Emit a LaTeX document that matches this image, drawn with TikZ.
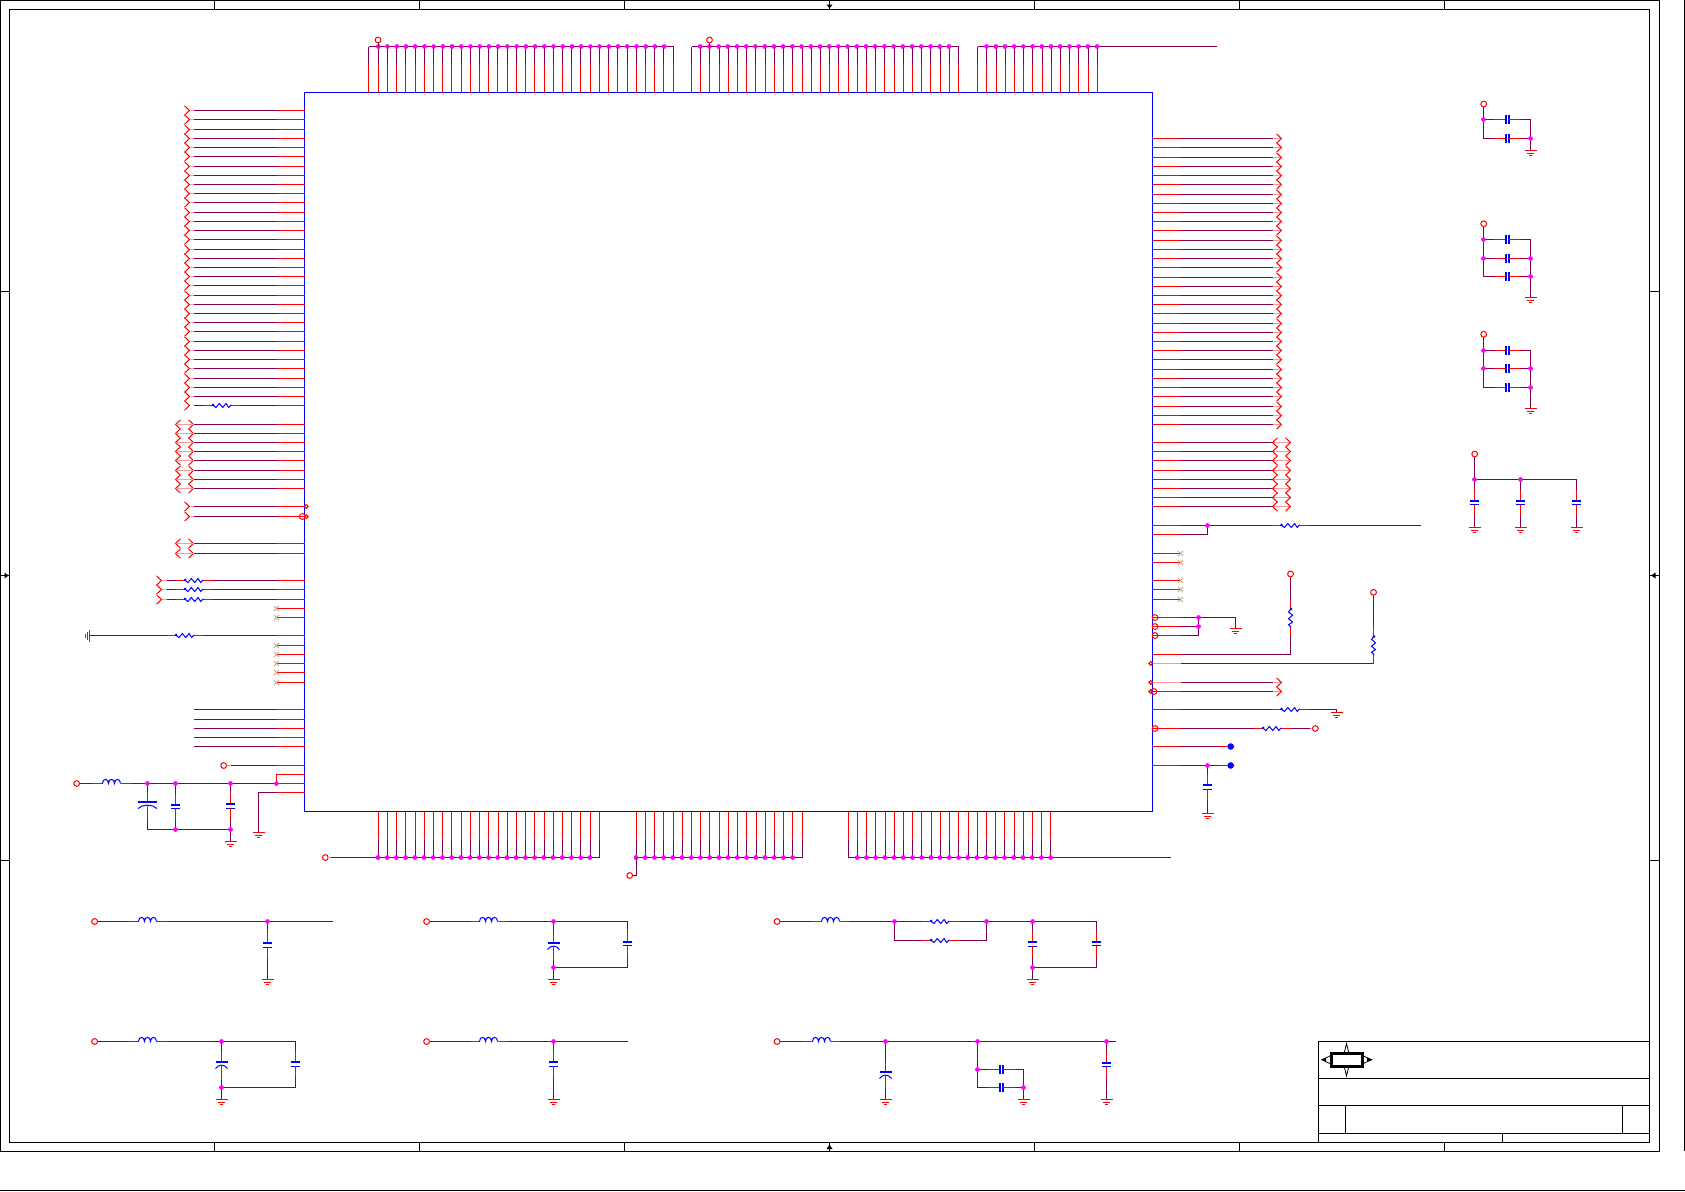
\documentclass[tikz,border=0pt]{standalone}
\definecolor{wirep}{HTML}{800050}
\definecolor{pk}{HTML}{FF9999}
\definecolor{nct}{HTML}{C8A880}
\definecolor{jdot}{HTML}{FF00FF}
\definecolor{rd}{HTML}{FF0000}
\definecolor{bl}{HTML}{0000FF}
\tikzset{
  pw/.style={draw=wirep,line width=1pt},
  pr/.style={draw=rd,line width=1pt},
  ppk/.style={draw=pk,line width=1.4pt},
  plate/.style={draw=bl,line width=1pt},
  plateb/.style={draw=bl,line width=2pt},
  frm/.style={draw=black,line width=1pt},
  resz/.pic={\fill[bl] (0.6,-0.6) circle (1.4pt);
    \draw[bl,line width=1pt] (0,-0.6)--(3.4,2)--(6.8,-2)--(10.2,2)--(13.6,-2)--(16.2,2)--(18.7,-0.6);},
  indz/.pic={\draw[bl,line width=1pt] (0,0) .. controls (0,-5.5) and (6,-5.5) .. (6,0) .. controls (6,-5.5) and (12,-5.5) .. (12,0) .. controls (12,-5.5) and (18,-5.5) .. (18,0);},
  gndz/.pic={\draw[rd,line width=1.1pt] (-6,0)--(6,0) (-3.8,2.6)--(3.8,2.6) (-1.8,5.2)--(1.8,5.2);}
}
\newcommand\Lp[2]{\draw[pw] (#2,#1)--(276.5,#1);\draw[pr] (276.5,#1)--(chip.west |- 0,#1);}
\newcommand\Rp[2]{\draw[pr] (chip.east |- 0,#1)--(1180.5,#1);\draw[pw] (1180.5,#1)--(#2,#1);}
\newcommand\Tp[1]{\draw[pr] (#1,92.5)--(#1,64.5);\draw[pw] (#1,64.5)--(#1,46.5);}
\newcommand\Bp[1]{\draw[pr] (#1,811.5)--(#1,839.5);\draw[pw] (#1,839.5)--(#1,857.5);}
\newcommand\Dot[2]{\fill[jdot] (#1,#2) circle (2.4pt);}
\newcommand\Open[2]{\draw[rd,line width=1pt] (#1,#2) circle (2.9pt);}
\newcommand\Sm[2]{\draw[rd,line width=1pt] (#1,#2) circle (1.9pt);}
\newcommand\NC[2]{\draw[nct,line width=.8pt] (#1-2.5,#2-2.5)--(#1+2.5,#2+2.5) (#1-2.5,#2+2.5)--(#1+2.5,#2-2.5);}
\newcommand\ChR[2]{\draw[rd,line width=1pt] (#1-5,#2-4.7)--(#1,#2)--(#1-5,#2+4.7);}
\newcommand\ChL[2]{\draw[rd,line width=1pt] (#1+5,#2-4.7)--(#1,#2)--(#1+5,#2+4.7);}
\newcommand\ResH[2]{\draw[pr] (#1-9,#2)--(#1,#2);\draw[pr] (#1+18.7,#2)--(#1+28,#2);\pic at (#1,#2) {resz};}
\newcommand\IndH[2]{\draw[pr] (#1-10,#2)--(#1,#2);\draw[pr] (#1+18,#2)--(#1+28,#2);\pic at (#1,#2) {indz};}
\newcommand\CapV[4]{\draw[pw] (#1,#2)--(#1,#4-13);\draw[pr] (#1,#4-13)--(#1,#4-2);
  \draw[plateb] (#1-4.5,#4-2)--(#1+4.5,#4-2);\draw[plate] (#1-4.5,#4+2)--(#1+4.5,#4+2);
  \draw[pr] (#1,#4+2)--(#1,#4+13);\draw[pw] (#1,#4+13)--(#1,#3);}
% polarised capacitor: x, ytop, ybot, plate, half width
\newcommand\PolV[5]{\draw[pw] (#1,#2)--(#1,#4-10);\draw[pr] (#1,#4-10)--(#1,#4);
  \draw[plateb] (#1-#5,#4)--(#1+#5,#4);
  \draw[bl,line width=1pt] (#1-#5,#4+7) .. controls (#1-#5*0.5,#4+2.5) and (#1+#5*0.5,#4+2.5) .. (#1+#5,#4+7);
  \draw[pr] (#1,#4+4)--(#1,#4+17);\draw[pw] (#1,#4+17)--(#1,#3);}
\newcommand\CapH[4]{\draw[pw] (#1,#4)--(#3-13.5,#4);\draw[pr] (#3-13.5,#4)--(#3-1.5,#4);
  \draw[plateb] (#3-1.5,#4-4.5)--(#3-1.5,#4+4.5);\draw[plateb] (#3+1.7,#4-4.5)--(#3+1.7,#4+4.5);
  \draw[pr] (#3+1.7,#4)--(#3+13.5,#4);\draw[pw] (#3+13.5,#4)--(#2,#4);}
\begin{document}
\begin{tikzpicture}[x=1pt,y=-1pt]
\useasboundingbox (0,0) rectangle (1685,1191);
% ---- sheet frame
\draw[frm] (0.5,0.5) rectangle (1659.5,1151.5);
\draw[frm] (9.5,9.5) rectangle (1649.5,1142.5);
\draw[frm] (0,1190.5)--(1684.5,1190.5);
\draw[frm] (1684.5,0)--(1684.5,1151);
\foreach \x in {214.5,419.5,624.5,829.5,1034.5,1239.5,1444.5}{
  \draw[frm] (\x,0.5)--(\x,9.5);\draw[frm] (\x,1142.5)--(\x,1151.5);}
\foreach \y in {291.5,575.5,860.5}{
  \draw[frm] (0.5,\y)--(9.5,\y);\draw[frm] (1649.5,\y)--(1659.5,\y);}
\fill (826.5,4.5)--(832.5,4.5)--(829.5,8.5)--cycle;
\fill (826.5,1149)--(832.5,1149)--(829.5,1144.5)--cycle;
\fill (4.5,572.5)--(4.5,578.5)--(8.5,575.5)--cycle;
\fill (1655.5,572.5)--(1655.5,578.5)--(1651,575.5)--cycle;
% ---- title block
\draw[frm] (1318.5,1041.5) rectangle (1649.5,1142.5);
\draw[frm] (1318.5,1078.5)--(1649.5,1078.5);
\draw[frm] (1318.5,1105.5)--(1649.5,1105.5);
\draw[frm] (1318.5,1133.5)--(1649.5,1133.5);
\draw[frm] (1345.5,1105.5)--(1345.5,1133.5);
\draw[frm] (1622.5,1105.5)--(1622.5,1133.5);
\draw[frm] (1502.5,1133.5)--(1502.5,1142.5);
\draw[black,line width=.8pt] (1346.5,1043.5)--(1350.5,1059.7)--(1346.5,1076)--(1342.5,1059.7)--cycle;
\draw[black,line width=.8pt] (1321.7,1059.7)--(1332,1055)--(1361,1055)--(1371.7,1059.7)--(1361,1064.5)--(1332,1064.5)--cycle;
\fill (1321.7,1059.7)--(1326,1057.7)--(1326,1061.7)--cycle;
\fill (1371.7,1059.7)--(1367,1057.7)--(1367,1061.7)--cycle;
\draw[black,fill=white,line width=2.8pt] (1331.2,1053.2) rectangle (1362.8,1066.8);
% ---- the chip
\node[draw=bl,line width=1pt,inner sep=0pt,outer sep=0pt,minimum width=848pt,minimum height=719pt,anchor=north west] (chip) at (304.5,92.5) {};
% ---- left pins, group 1
\foreach \k [evaluate=\k as \y using floor(110.7+9.22*\k)+0.5] in {0,...,31}{
  \ChR{189.5}{\y}\draw[ppk] (189.5,\y)--(193.5,\y);\Lp{\y}{193.5}}
\ChR{189.5}{405.5}
\draw[pw] (193.5,405.5)--(203.5,405.5);\ResH{212.5}{405.5}\draw[pw] (240.5,405.5)--(276.5,405.5);
\draw[pr] (276.5,405.5)--(304.5,405.5);
% group 2 and 4, double chevrons
\foreach \y in {424.5,433.5,442.5,451.5,460.5,470.5,479.5,488.5,543.5,553.5}{
  \ChL{175.5}{\y}\ChR{193.5}{\y}\draw[ppk] (175.5,\y)--(193.5,\y);\Lp{\y}{193.5}}
% group 3
\foreach \y in {506.5,516.5}{\ChR{189.5}{\y}\draw[ppk] (189.5,\y)--(193.5,\y);\Lp{\y}{193.5}}
\Sm{306.2}{506.5}\Sm{306.2}{516.5}\Open{302.3}{516.5}
% group 5
\foreach \y in {580.5,589.5,599.5}{
  \ChR{161.5}{\y}\draw[ppk] (161.5,\y)--(166.5,\y);\draw[pw] (166.5,\y)--(175.5,\y);
  \ResH{184.5}{\y}\Lp{\y}{212.5}}
% no-connect pins
\foreach \y in {608.5,617.5,645.5,654.5,663.5,672.5,682.5}{
  \draw[pr] (276.5,\y)--(304.5,\y);\NC{276.5}{\y}}
% grounded resistor
\draw[rd,line width=1pt] (89.5,629.5)--(89.5,641.5) (87.5,631.5)--(87.5,639.5) (85.5,633.5)--(85.5,637.5);
\draw[pw] (90,635.5)--(166.5,635.5);\ResH{175.5}{635.5}\Lp{635.5}{203.5}
% plain pins
\foreach \y in {709.5,719.5,728.5,737.5,746.5}{\Lp{\y}{193.5}}
\Open{223.7}{765.5}\draw[ppk] (226.6,765.5)--(230.5,765.5);\Lp{765.5}{230.5}
% supply network lower left
\draw[pr] (276.5,783.5)--(276.5,774.5)--(304.5,774.5);
\Open{76.7}{783.5}\draw[pw] (79.6,783.5)--(92.5,783.5);\IndH{102.5}{783.5}\Lp{783.5}{130.5}
\PolV{147.5}{783.5}{829.5}{801.5}{9.5}
\CapV{175.5}{783.5}{829.5}{806.5}
\CapV{230.5}{783.5}{841.5}{806}
\draw[pw] (147.5,829.5)--(230.5,829.5);
\pic at (230.5,841.5) {gndz};
\Dot{147.5}{783.5}\Dot{175.5}{783.5}\Dot{230.5}{783.5}\Dot{276.5}{783.5}\Dot{175.5}{829.5}\Dot{230.5}{829.5}
\draw[pr] (276.5,792.5)--(304.5,792.5);
\draw[pw] (276.5,792.5)--(258.5,792.5)--(258.5,832.5);
\pic at (258.5,832.5) {gndz};
% ---- top pins
\draw[pw] (368.5,46.5)--(673.5,46.5);
\foreach \k [evaluate=\k as \x using floor(368.9+9.22*\k)+0.5] in {0,...,33}{\Tp{\x}}
\foreach \k [evaluate=\k as \x using 378.3+9.22*(\k-1)] in {1,...,32}{\Dot{\x}{46.5}}
\Open{378}{40}\draw[pw] (378.5,43)--(378.5,46.5);
\draw[pw] (691.5,46.5)--(958.5,46.5);
\foreach \k [evaluate=\k as \x using floor(691.5+9.21*\k)+0.5] in {0,...,29}{\Tp{\x}}
\foreach \k [evaluate=\k as \x using 691+9.21*\k] in {1,...,28}{\Dot{\x}{46.5}}
\Open{709.5}{40}\draw[pw] (709.5,43)--(709.5,46.5);
\draw[pw] (977.5,46.5)--(1216.5,46.5);
\foreach \k [evaluate=\k as \x using floor(977.6+9.21*\k)+0.5] in {0,...,13}{\Tp{\x}}
\foreach \k [evaluate=\k as \x using 977.3+9.21*\k] in {1,...,13}{\Dot{\x}{46.5}}
% ---- bottom pins
\Open{325.3}{857.5}\draw[ppk] (328.2,857.5)--(331,857.5);\draw[pw] (331,857.5)--(599.5,857.5);
\foreach \k [evaluate=\k as \x using floor(378.3+9.21*\k)+0.5] in {0,...,24}{\Bp{\x}}
\foreach \k [evaluate=\k as \x using 378+9.21*\k] in {0,...,23}{\Dot{\x}{857.5}}
\draw[pw] (636.5,857.5)--(802.5,857.5);
\foreach \k [evaluate=\k as \x using floor(636.3+9.21*\k)+0.5] in {0,...,18}{\Bp{\x}}
\foreach \k [evaluate=\k as \x using 636+9.21*\k] in {0,...,17}{\Dot{\x}{857.5}}
\draw[pw] (636.5,857.5)--(636.5,875.5)--(632.6,875.5);\Open{629.7}{875.5}
\draw[pw] (848.5,857.5)--(1170.5,857.5);
\foreach \k [evaluate=\k as \x using floor(848.3+9.21*\k)+0.5] in {0,...,22}{\Bp{\x}}
\foreach \k [evaluate=\k as \x using 848+9.21*\k] in {1,...,22}{\Dot{\x}{857.5}}
% ---- right pins
\foreach \k [evaluate=\k as \y using floor(138.7+9.22*\k)+0.5] in {0,...,31}{
  \Rp{\y}{1272.5}\draw[ppk] (1272.5,\y)--(1281.5,\y);\ChR{1281.5}{\y}}
\foreach \y in {442.5,451.5,460.5,470.5,479.5,488.5,497.5,506.5}{
  \Rp{\y}{1272.5}\draw[ppk] (1272.5,\y)--(1290.5,\y);\ChL{1272.5}{\y}\ChR{1290.5}{\y}}
\Rp{525.5}{1272}\ResH{1281}{525.5}\draw[pw] (1309,525.5)--(1420.5,525.5);
\Rp{534.5}{1207.5}\draw[pw] (1207.5,534.5)--(1207.5,525.5);\Dot{1207.5}{525.5}
\foreach \y in {553.5,562.5,580.5,589.5,599.5}{\draw[pr] (1152.5,\y)--(1180.5,\y);\NC{1180.5}{\y}}
\Rp{617.5}{1235.5}\Rp{626.5}{1198.5}\Rp{635.5}{1198.5}
\draw[pw] (1198.5,617.5)--(1198.5,635.5);\draw[pw] (1235.5,617.5)--(1235.5,628.5);
\pic at (1235.5,628.5) {gndz};
\Dot{1198.5}{617.5}\Dot{1198.5}{626.5}
\foreach \y in {617.5,626.5,635.5}{\Open{1155}{\y}}
% pull-up 1
\Rp{654.5}{1290.5}
\Open{1290.5}{574}\draw[pw] (1290.5,577)--(1290.5,600.5);\draw[pr] (1290.5,600.5)--(1290.5,608.5);
\pic[rotate=-90] at (1290.5,608.5) {resz};
\draw[pr] (1290.5,627.2)--(1290.5,635.5);\draw[pw] (1290.5,635.5)--(1290.5,654.5);
% pull-up 2
\draw[ppk] (1152.5,663.5)--(1180.5,663.5);\draw[pw] (1180.5,663.5)--(1373.5,663.5);\draw[pr] (1373.5,663.5)--(1373.5,654.5);
\Sm{1150.7}{663.5}
\Open{1373.5}{592.3}\draw[pw] (1373.5,595.2)--(1373.5,626.5);\draw[pr] (1373.5,626.5)--(1373.5,636);
\pic[rotate=-90] at (1373.5,636) {resz};
% differential pair
\foreach \y in {682.5,691.5}{\draw[pw] (1180.5,\y)--(1272.5,\y);\draw[ppk] (1272.5,\y)--(1281.5,\y);\ChR{1281.5}{\y}}
\draw[ppk] (1152.5,682.5)--(1180.5,682.5);\draw[pr] (1152.5,691.5)--(1180.5,691.5);
\Sm{1150.7}{682.5}\Sm{1150.7}{691.5}\Open{1154}{691.5}
% resistors
\Rp{709.5}{1272}\ResH{1281}{709.5}\draw[pw] (1309,709.5)--(1336.5,709.5)--(1336.5,712.5);
\pic at (1336.5,712.5) {gndz};
\Open{1155}{728.5}\Rp{728.5}{1253.5}\ResH{1262.5}{728.5}\draw[pw] (1290.5,728.5)--(1309.5,728.5);
\draw[ppk] (1309.5,728.5)--(1312.4,728.5);\Open{1315.3}{728.5}
% test points
\Rp{746.5}{1217.5}\draw[pr] (1217.5,746.5)--(1230.5,746.5);\fill[bl] (1230.7,746.5) circle (3.3pt);
\Rp{765.5}{1217.5}\draw[pr] (1217.5,765.5)--(1230.5,765.5);\fill[bl] (1230.7,765.5) circle (3.3pt);
\CapV{1207.5}{765.5}{813.5}{787}\pic at (1207.5,813.5) {gndz};\Dot{1207.5}{765.5}
% ---- decoupling groups upper right
\Open{1483.7}{104}\draw[pw] (1483.5,107)--(1483.5,138.5);
\CapH{1483.5}{1530.5}{1507}{119.5}\CapH{1483.5}{1530.5}{1507}{138.5}
\draw[pw] (1530.5,119.5)--(1530.5,150.5);\pic at (1530.5,150.5) {gndz};
\Dot{1483.5}{119.5}\Dot{1530.5}{138.5}
\Open{1483.7}{223.7}\draw[pw] (1483.5,226.6)--(1483.5,276.5);
\CapH{1483.5}{1530.5}{1507}{239.5}\CapH{1483.5}{1530.5}{1507}{258.5}\CapH{1483.5}{1530.5}{1507}{276.5}
\draw[pw] (1530.5,239.5)--(1530.5,297.5);\pic at (1530.5,297.5) {gndz};
\Dot{1483.5}{239.5}\Dot{1483.5}{258.5}\Dot{1530.5}{258.5}\Dot{1530.5}{276.5}
\Open{1483.7}{334.3}\draw[pw] (1483.5,337.2)--(1483.5,387.5);
\CapH{1483.5}{1530.5}{1507}{350.5}\CapH{1483.5}{1530.5}{1507}{368.5}\CapH{1483.5}{1530.5}{1507}{387.5}
\draw[pw] (1530.5,350.5)--(1530.5,408.5);\pic at (1530.5,408.5) {gndz};
\Dot{1483.5}{350.5}\Dot{1483.5}{368.5}\Dot{1530.5}{368.5}\Dot{1530.5}{387.5}
\Open{1474.7}{454}\draw[pw] (1474.5,457)--(1474.5,479.5)--(1576.5,479.5);
\CapV{1474.5}{479.5}{527.5}{502.5}\CapV{1520.5}{479.5}{527.5}{502.5}\CapV{1576.5}{479.5}{527.5}{502.5}
\pic at (1474.5,527.5) {gndz};\pic at (1520.5,527.5) {gndz};\pic at (1576.5,527.5) {gndz};
\Dot{1474.5}{479.5}\Dot{1520.5}{479.5}
% ---- power filters, row 1
\Open{94.6}{921.5}\draw[pw] (97.5,921.5)--(129,921.5);\IndH{138.5}{921.5}\draw[pw] (166.5,921.5)--(332.5,921.5);
\CapV{267.5}{921.5}{979.5}{945}\pic at (267.5,979.5) {gndz};\Dot{267.5}{921.5}
\Open{426.6}{921.5}\draw[pw] (429.5,921.5)--(470,921.5);\IndH{479.5}{921.5}\draw[pw] (507.5,921.5)--(627.5,921.5)--(627.5,930.5);
\PolV{553.5}{921.5}{979.5}{942.5}{6}\CapV{627.5}{921.5}{967.5}{943.8}\draw[pw] (553.5,967.5)--(627.5,967.5);
\pic at (553.5,979.5) {gndz};\Dot{553.5}{921.5}\Dot{553.5}{967.5}
\Open{777}{921.5}\draw[pw] (780,921.5)--(811.5,921.5);\IndH{821.5}{921.5}\draw[pw] (849.5,921.5)--(921.5,921.5);
\ResH{930.5}{921.5}\draw[pw] (958.5,921.5)--(1096.5,921.5);
\draw[pw] (894.5,921.5)--(894.5,940.5)--(921.5,940.5);\ResH{930.5}{940.5}\draw[pw] (958.5,940.5)--(986.5,940.5)--(986.5,921.5);
\CapV{1032.5}{921.5}{979.5}{944.3}\CapV{1096.5}{921.5}{967.5}{943.8}\draw[pw] (1032.5,967.5)--(1096.5,967.5);
\pic at (1032.5,979.5) {gndz};
\Dot{894.5}{921.5}\Dot{986.5}{921.5}\Dot{1032.5}{921.5}\Dot{1032.5}{967.5}
% ---- power filters, row 2
\Open{94.6}{1041.5}\draw[pw] (97.5,1041.5)--(129,1041.5);\IndH{138.5}{1041.5}\draw[pw] (166.5,1041.5)--(295.5,1041.5);
\PolV{221.5}{1041.5}{1099.5}{1061.5}{6}\CapV{295.5}{1041.5}{1087.5}{1064}\draw[pw] (221.5,1087.5)--(295.5,1087.5);
\pic at (221.5,1099.5) {gndz};\Dot{221.5}{1041.5}\Dot{221.5}{1087.5}
\Open{426.6}{1041.5}\draw[pw] (429.5,1041.5)--(470,1041.5);\IndH{479.5}{1041.5}\draw[pw] (507.5,1041.5)--(627.5,1041.5);
\CapV{553.5}{1041.5}{1099.5}{1064}\pic at (553.5,1099.5) {gndz};\Dot{553.5}{1041.5}
\Open{777}{1041.5}\draw[pw] (780,1041.5)--(802.5,1041.5);\IndH{812.5}{1041.5}\draw[pw] (840.5,1041.5)--(1115.5,1041.5);
\PolV{885.5}{1041.5}{1099.5}{1071.5}{6}\pic at (885.5,1099.5) {gndz};
\draw[pw] (977.5,1041.5)--(977.5,1087.5);
\CapH{977.5}{1023.5}{1001}{1069.5}\CapH{977.5}{1023.5}{1001}{1087.5}
\draw[pw] (1023.5,1069.5)--(1023.5,1099.5);\pic at (1023.5,1099.5) {gndz};
\CapV{1106.5}{1041.5}{1099.5}{1064.7}\pic at (1106.5,1099.5) {gndz};
\Dot{885.5}{1041.5}\Dot{977.5}{1041.5}\Dot{1106.5}{1041.5}\Dot{977.5}{1069.5}\Dot{1023.5}{1087.5}
\end{tikzpicture}
\end{document}
